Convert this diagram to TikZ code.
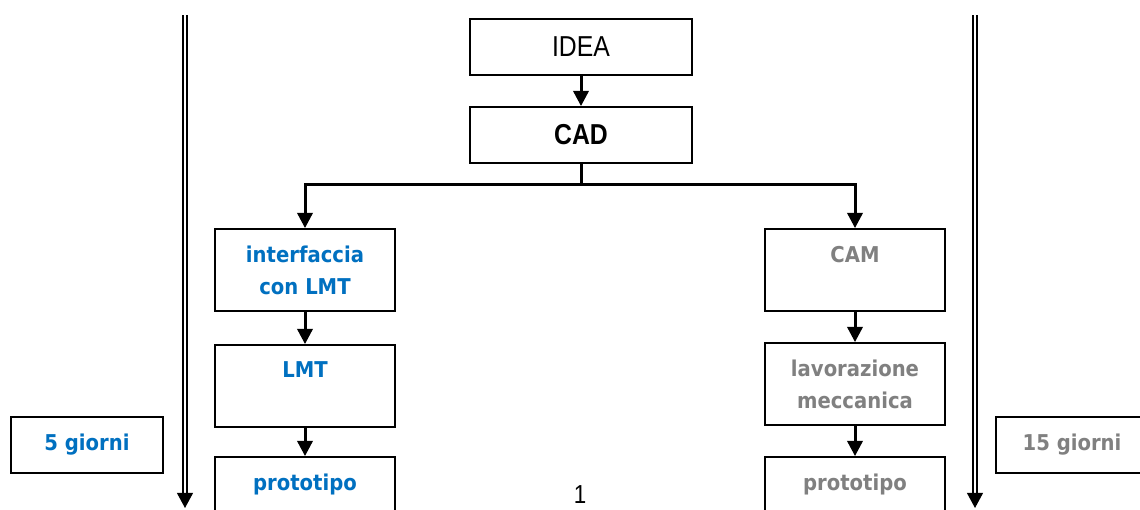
\documentclass[tikz,border=0pt]{standalone}
\usepackage{fontspec}
\setmainfont{DejaVu Sans}
\newfontfamily\narrowfont[FakeStretch=0.86]{Liberation Sans}
\newfontfamily\labelfont[FakeStretch=0.9]{DejaVu Sans}
\usetikzlibrary{arrows.meta, positioning}
\definecolor{lmtblue}{RGB}{0,112,192}
\definecolor{camgray}{RGB}{128,128,128}
\tikzstyle{block} = [rectangle, draw, line width=0.045cm, inner sep=0pt, align=center]
\tikzstyle{head} = [block, minimum width=5.55cm, minimum height=1.4cm, font=\narrowfont\fontsize{20.5}{24}\selectfont]
\tikzstyle{phase} = [block, minimum width=4.5cm, minimum height=2.05cm, font=\labelfont\bfseries\fontsize{15.5}{22.8}\selectfont]
\tikzstyle{days} = [block, minimum width=3.8cm, minimum height=1.4cm, font=\labelfont\bfseries\fontsize{15.5}{17}\selectfont]
\tikzstyle{line} = [draw, line width=0.075cm, -{Triangle[width=0.38cm,length=0.38cm]}]
\tikzstyle{bar} = [draw, line width=0.075cm]
\tikzstyle{time} = [draw, double, line width=0.045cm, double distance=0.055cm]
\tikzstyle{timetip} = [draw, line width=0.04cm, -{Triangle[width=0.4cm,length=0.38cm]}]

\begin{document}
\begin{tikzpicture}[x=0.025cm, y=-0.025cm]
        \useasboundingbox[fill=white] (0,0) rectangle (1140,509);

        % Nodes
        \node [head] (idea) at (581,47) {IDEA};
        \node [head] (cad) at (581,135) {\bfseries CAD};
        \node [phase, text=lmtblue] (iface) at (305,270) {interfaccia\\con LMT};
        \node [phase, text=lmtblue] (lmt) at (305,386) {LMT\\ \mbox{}};
        \node [phase, text=lmtblue] (protoL) at (305,498) {prototipo\\ \mbox{}};
        \node [phase, text=camgray] (cam) at (855,270) {CAM\\ \mbox{}};
        \node [phase, text=camgray] (lav) at (855,384) {lavorazione\\meccanica};
        \node [phase, text=camgray] (protoR) at (855,498) {prototipo\\ \mbox{}};
        \node [days, text=lmtblue] (days5) at (87,445) {5 giorni};
        \node [days, text=camgray] (days15) at (1072,445) {15 giorni};
        \node [font=\narrowfont\fontsize{18.5}{20}\selectfont, inner sep=0pt] (pagenum) at (580,495) {1};

        \coordinate (split) at (581,184);
        \coordinate (ltop) at (185,15);
        \coordinate (lmid) at (185,493);
        \coordinate (lbot) at (185,508);
        \coordinate (rtop) at (975,15);
        \coordinate (rmid) at (975,493);
        \coordinate (rbot) at (975,508);

        % Edges
        \path [line] (idea) -- (cad);
        \path [bar] (cad.south) -- (split);
        \path [line] (split) -| (iface.north);
        \path [line] (split) -| (cam.north);
        \path [line] (iface) -- (lmt);
        \path [line] (lmt) -- (protoL);
        \path [line] (cam) -- (lav);
        \path [line] (lav) -- (protoR);

        % Time axes
        \path [time] (ltop) -- (lmid);
        \path [timetip] (lmid) -- (lbot);
        \path [time] (rtop) -- (rmid);
        \path [timetip] (rmid) -- (rbot);
    \end{tikzpicture}
\end{document}
